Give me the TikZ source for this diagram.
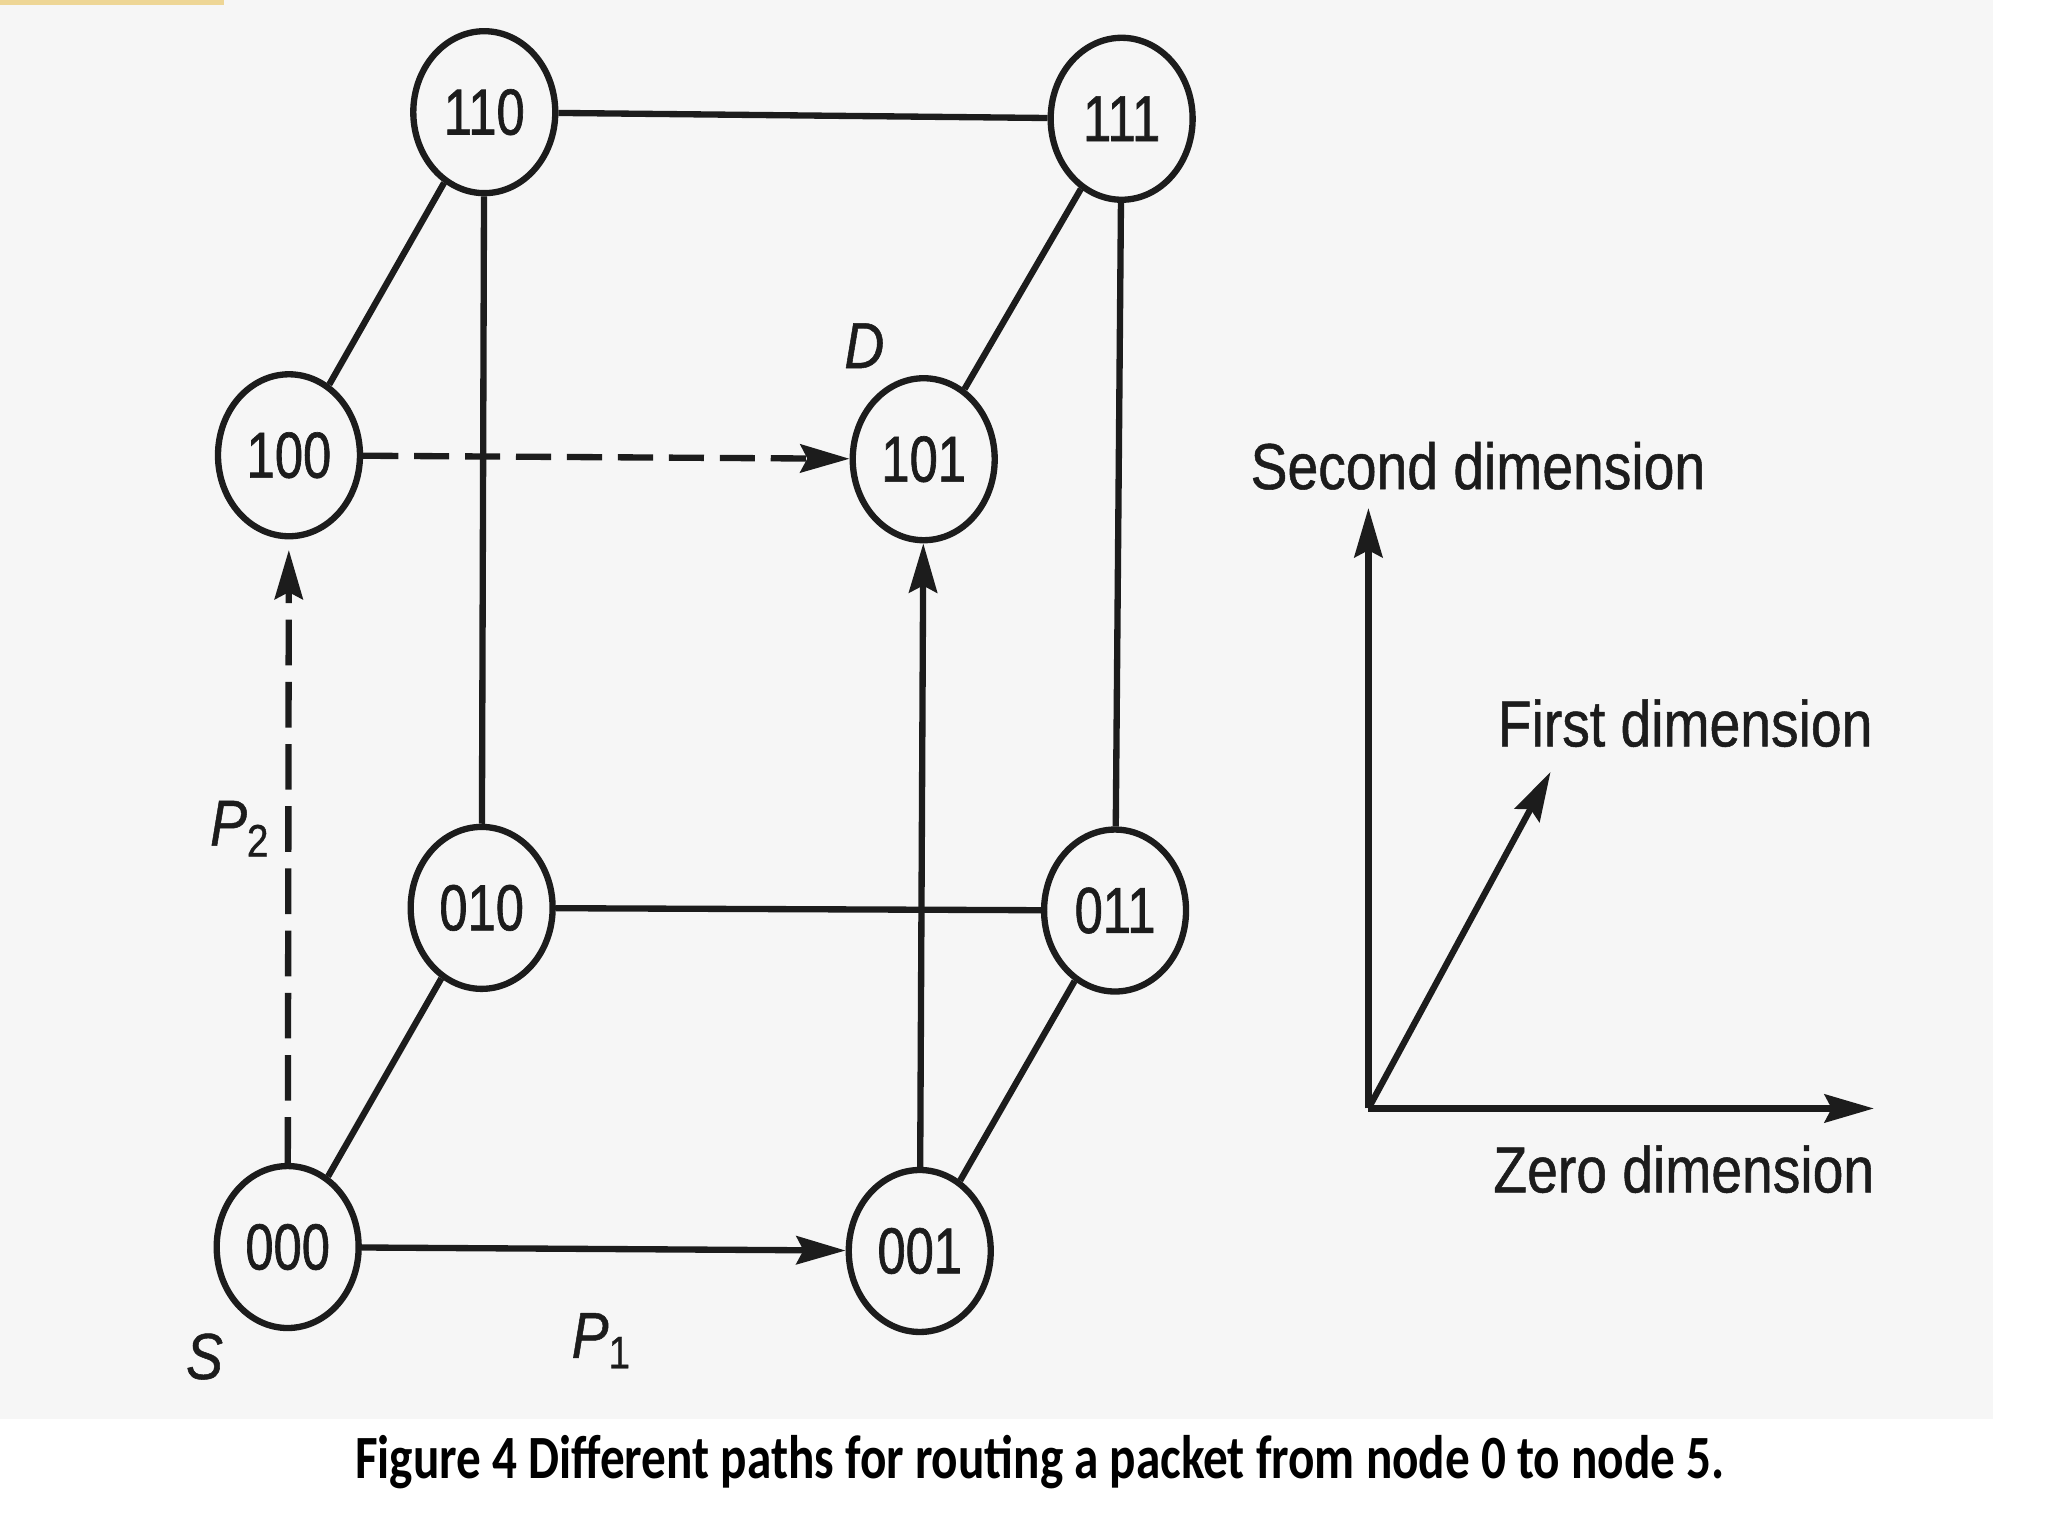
\documentclass[tikz,border=0pt]{standalone}
\usepackage{fontspec}
\setmainfont{Liberation Sans}
\newfontfamily\nodefont[FakeStretch=0.78,FakeBold=1]{Liberation Sans}
\newfontfamily\labfont[FakeStretch=0.85,FakeBold=0.8]{Liberation Sans}
\newfontfamily\capfont[FakeStretch=0.80]{Carlito}
\usetikzlibrary{arrows.meta,shapes.geometric}
\definecolor{bgc}{RGB}{246,246,246}
\definecolor{ink}{RGB}{28,28,28}
\definecolor{strip}{RGB}{238,214,150}
\begin{document}
\begin{tikzpicture}[x=0.013196cm,y=-0.013196cm,
  vtx/.style={ellipse, draw=ink, line width=1.8pt, minimum width=1.42cm, minimum height=1.62cm, inner sep=0pt, text=ink, font=\nodefont\fontsize{18.5}{18.5}\selectfont},
  edge/.style={draw=ink, line width=1.8pt},
  arr/.style={edge, -{Stealth[length=14pt,width=8pt,inset=2pt]}},
  hdsh/.style={dash pattern=on 10pt off 4.5pt},
  vdsh/.style={dash pattern=on 13pt off 4.7pt},
  lab/.style={text=ink, inner sep=0pt, font=\labfont\fontsize{18.5}{18.5}\selectfont},
  captxt/.style={text=black, inner sep=0pt, font=\capfont\bfseries\fontsize{17.5}{17.5}\selectfont}]
\useasboundingbox (0,0) rectangle (1552,1164);
\fill[white] (0,0) rectangle (1552,1164);
\fill[bgc] (0,0) rectangle (1510,1075);
\fill[strip] (0,0) rectangle (170,4);
% vertices
\node[vtx] (n110) at (367,85) {110};
\node[vtx] (n111) at (850,90) {111};
\node[vtx] (n100) at (219,345) {100};
\node[vtx] (n101) at (700,348) {101};
\node[vtx] (n010) at (365,688) {010};
\node[vtx] (n011) at (845,690) {011};
\node[vtx] (n000) at (218,945) {000};
\node[vtx] (n001) at (697,948) {001};
% cube edges
\draw[edge] (n110) -- (n111);
\draw[edge] (n110) -- (n100);
\draw[edge] (n110) -- (n010);
\draw[edge] (n111) -- (n101);
\draw[edge] (n111) -- (n011);
\draw[edge] (n010) -- (n011);
\draw[edge] (n010) -- (n000);
\draw[edge] (n011) -- (n001);
% paths
\draw[arr] (n000) -- (n001);
\draw[arr] (n001) -- (n101);
\draw[arr, vdsh, shorten >=3pt] (n000) -- (n100);
\draw[arr, hdsh] (n100) -- (n101);
% labels
\node[lab] (lD) at (655,262) {\itshape D};
\node[lab] (lS) at (155,1028) {\itshape S};
\node[lab] (lP1) at (456,1016) {{\itshape P}\textsubscript{\upshape 1}};
\node[lab] (lP2) at (182,628) {{\itshape P}\textsubscript{\upshape 2}};
% axes
\coordinate (O) at (1037,840);
\coordinate (Up) at (1037,385);
\coordinate (Rt) at (1420,840);
\coordinate (Dg) at (1175,585);
\draw[arr] (O) -- (Up);
\draw[arr] (O) -- (Rt);
\draw[arr] (O) -- (Dg);
\node[lab] (l2) at (1120,353) {Second dimension};
\node[lab] (l1) at (1277,548) {First dimension};
\node[lab] (l0) at (1276,886) {Zero dimension};
% caption
\node[captxt] (capt) at (788,1108) {Figure 4 Different paths for routing a packet from node 0 to node 5.};
\end{tikzpicture}
\end{document}
